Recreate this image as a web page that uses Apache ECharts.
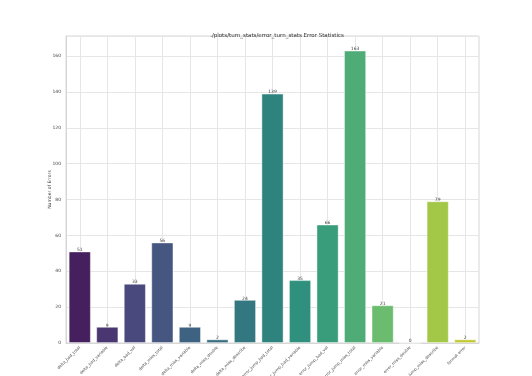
<!DOCTYPE html>
<html>
<head>
<meta charset="utf-8">
<script src="https://cdn.jsdelivr.net/npm/echarts@6/dist/echarts.min.js"></script>
<style>
  html, body { margin: 0; padding: 0; background: #fff; }
  #chart { width: 532px; height: 376px; }
</style>
</head>
<body>
<div id="chart"></div>
<script>
const categories = [
  'delta_bad_total', 'delta_bad_variable', 'delta_bad_val', 'delta_miss_total',
  'delta_miss_variable', 'delta_miss_double', 'delta_miss_describe',
  'error_jump_bad_total', 'error_jump_bad_variable', 'error_jump_bad_val',
  'error_jump_miss_total', 'error_miss_variable', 'error_miss_double',
  'error_jump_miss_describe', 'format error'
]
const errorCounts = [51, 9, 33, 56, 9, 2, 24, 139, 35, 66, 163, 21, 0, 79, 2]
const yTicks = [0, 20, 40, 60, 80, 100, 120, 140, 160]

// viridis, 15 steps, toned down like seaborn's saturation=0.75
const viridis = ['#481668', '#472c7a', '#424086', '#3b528b', '#33638d', '#2c728e', '#26828e',
  '#21918c', '#1fa088', '#28ae80', '#3fbc73', '#5ec962', '#84d44b', '#addc30', '#d8e219']

const desat = (hex, k) => {
  let r = parseInt(hex.slice(1, 3), 16) / 255, g = parseInt(hex.slice(3, 5), 16) / 255, b = parseInt(hex.slice(5, 7), 16) / 255
  const mx = Math.max(r, g, b), mn = Math.min(r, g, b), l = (mx + mn) / 2
  const c = (mx - mn) * k
  const nmn = l - c / 2
  const f = v => Math.round(255 * (nmn + (mx === mn ? 0 : (v - mn) / (mx - mn)) * c))
  return 'rgb(' + f(r) + ',' + f(g) + ',' + f(b) + ')'
}
const colors = viridis.map(c => desat(c, 0.75))

const chart = echarts.init(document.getElementById('chart'))
const font = 'DejaVu Sans'

// helper axis: half-band slots so gridlines sit on bar centres
const halfSlots = Array.from({ length: categories.length * 2 + 1 }, (_, i) => String(i))

chart.setOption({
  animation: false,
  title: {
    text: './plots/turn_stats/error_turn_stats Error Statistics',
    left: 272, top: 28, textAlign: 'center',
    textStyle: { fontSize: 5.5, fontWeight: 'normal', color: '#333', fontFamily: font }
  },
  grid: {
    left: 66, right: 53, top: 36, bottom: 33, outerBoundsMode: 'none', containLabel: false,
    show: true, borderColor: '#d6d6d6', borderWidth: 1
  },
  xAxis: [
    {
      type: 'category', data: categories, boundaryGap: true,
      axisLine: { lineStyle: { color: '#d6d6d6' } },
      axisTick: { show: false },
      splitLine: { show: false },
      axisLabel: { rotate: 45, fontSize: 4, color: '#444', fontFamily: font, interval: 0, margin: 4 }
    },
    {
      type: 'category', data: halfSlots, boundaryGap: false, position: 'bottom',
      axisLine: { show: false }, axisTick: { show: false }, axisLabel: { show: false },
      splitLine: { show: true, interval: i => i % 2 === 1, lineStyle: { color: '#e6e6e6', width: 1 } }
    }
  ],
  yAxis: {
    type: 'value', min: 0, max: 171.15, interval: 20,
    name: 'Number of Errors', nameLocation: 'middle', nameGap: 14, nameMoveOverlap: false,
    nameTextStyle: { fontSize: 4.5, color: '#444', fontFamily: font },
    axisLine: { show: true, lineStyle: { color: '#d6d6d6' } },
    axisTick: { show: false },
    axisLabel: {
      fontSize: 4.5, color: '#444', fontFamily: font, margin: 5, showMaxLabel: false,
      formatter: v => (yTicks.includes(v) ? String(v) : '')
    },
    splitLine: { lineStyle: { color: '#e6e6e6', width: 1 } }
  },
  series: [{
    type: 'bar', xAxisIndex: 0, barWidth: '80%',
    data: errorCounts.map((v, i) => ({ value: v, itemStyle: { color: colors[i] } })),
    itemStyle: { borderColor: 'rgba(255,255,255,0.55)', borderWidth: 0.8 },
    label: { show: true, position: 'top', distance: -1, fontSize: 4.5, color: '#444', fontFamily: font }
  }]
})
</script>
</body>
</html>
